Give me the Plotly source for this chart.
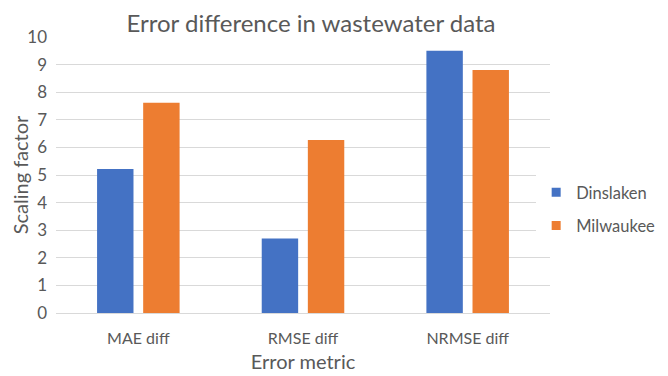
import plotly.graph_objects as go

categories = ["MAE diff", "RMSE diff", "NRMSE diff"]
dinslaken = [5.22, 2.7, 9.5]
milwaukee = [7.62, 6.27, 8.8]
y_ticks = list(range(0, 11))
series_names = ["Dinslaken", "Milwaukee"]
series_colors = ["#4472C4", "#ED7D31"]

FONT = "Lato"
GREY = "#595959"

fig = go.Figure()
for name, vals, col in zip(series_names, [dinslaken, milwaukee], series_colors):
    fig.add_trace(go.Bar(name=name, x=categories, y=vals,
                         marker=dict(color=col, line=dict(width=0)),
                         showlegend=False))
for i, (name, col) in enumerate(zip(series_names, series_colors)):
    fig.add_trace(go.Scatter(name=name, x=[None], y=[None], mode="markers",
                             marker=dict(symbol="square", size=9, color=col),
                             legendgroup=str(i), showlegend=True))

fig.update_layout(
    width=668, height=376,
    margin=dict(l=47.5, r=126, t=29, b=71, autoexpand=False),
    paper_bgcolor="white", plot_bgcolor="white",
    barmode="group", bargap=0.44, bargroupgap=0.21,
    title=dict(text="Error difference in wastewater data", x=303 / 668, xanchor="center",
               y=1 - 16 / 376, yanchor="middle",
               font=dict(family=FONT, size=24, color=GREY)),
    font=dict(family=FONT, color=GREY),
    legend=dict(x=0.972, xanchor="left", y=0.377, yanchor="middle",
                font=dict(family=FONT, size=16.5, color=GREY),
                tracegroupgap=9, itemwidth=30),
    xaxis=dict(showgrid=False, showline=False, ticks="", automargin=False,
               tickfont=dict(size=16, color=GREY), ticklabelstandoff=14,
               title=dict(text="Error metric", font=dict(size=20, color=GREY), standoff=8)),
    yaxis=dict(range=[0, 10], tickvals=y_ticks, showgrid=True, gridcolor="#d9d9d9",
               gridwidth=1, zeroline=True, zerolinecolor="#d9d9d9", zerolinewidth=1,
               showline=False, ticks="", ticklabelstandoff=8, automargin=False,
               tickfont=dict(size=17, color=GREY),
               title=dict(text="Scaling factor", font=dict(size=20, color=GREY), standoff=0)),
)

fig.write_html("out.html")
